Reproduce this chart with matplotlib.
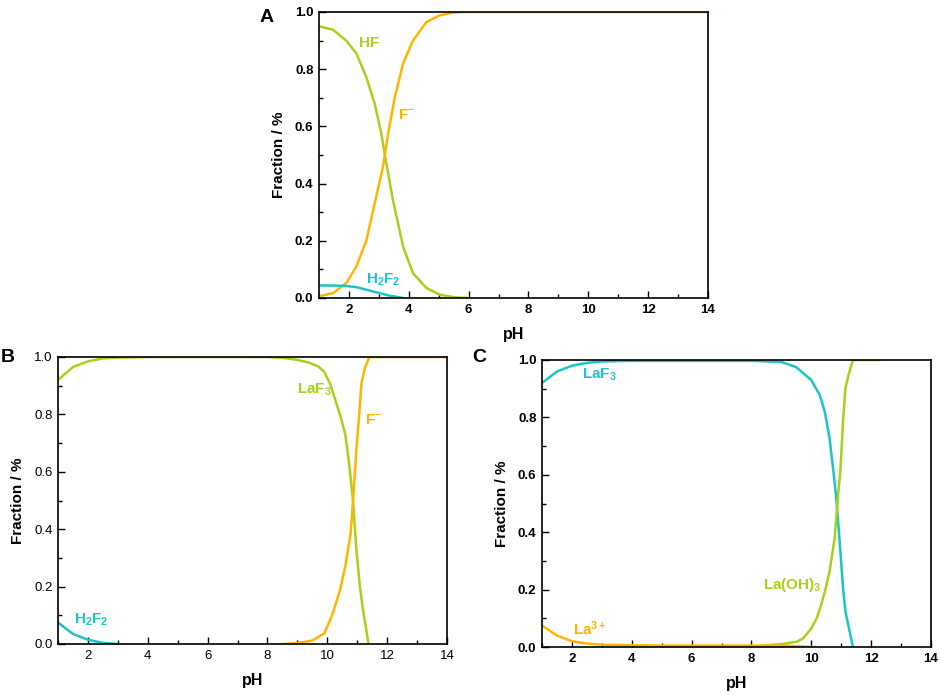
import numpy as np
import matplotlib
matplotlib.use("Agg")
import matplotlib.pyplot as plt
from matplotlib.ticker import MultipleLocator

plt.rcParams["font.family"] = ["Liberation Sans", "DejaVu Sans"]
plt.rcParams["mathtext.fontset"] = "custom"
plt.rcParams["mathtext.rm"] = "Liberation Sans"
plt.rcParams["mathtext.bf"] = "Liberation Sans:bold"

GREEN = "#A6D21C"
ORANGE = "#FFB500"
CYAN = "#1CC4C8"

# Panel A
a_hf_ph = [1, 1.47, 1.91, 2.25, 2.58, 2.86, 3.08, 3.23, 3.47, 3.81, 4.14, 4.59, 5.03, 5.48, 5.98]
a_hf = [0.95, 0.938, 0.90, 0.855, 0.773, 0.68, 0.576, 0.483, 0.343, 0.18, 0.087, 0.035, 0.012, 0.003, 0.0]
a_f_ph = [1, 1.47, 1.91, 2.25, 2.58, 2.86, 3.14, 3.31, 3.53, 3.81, 4.14, 4.59, 5.03, 5.48, 5.92, 14]
a_f = [0.006, 0.017, 0.052, 0.11, 0.2, 0.33, 0.46, 0.575, 0.70, 0.82, 0.90, 0.965, 0.988, 0.998, 1.0, 1.0]
a_h2f2_ph = [1, 1.8, 2.25, 2.8, 3.36, 3.81]
a_h2f2 = [0.044, 0.043, 0.038, 0.023, 0.008, 0.0]

# Panel B
b_laf3_ph = [1, 1.5, 2, 2.5, 3, 4, 6, 8, 8.5, 9, 9.4, 9.7, 9.9, 10.1, 10.27, 10.45, 10.6, 10.68, 10.77, 10.86, 10.97, 11.08, 11.19, 11.38]
b_laf3 = [0.92, 0.965, 0.985, 0.995, 0.998, 1.0, 1.0, 1.0, 0.997, 0.99, 0.98, 0.967, 0.948, 0.905, 0.85, 0.79, 0.73, 0.67, 0.59, 0.5, 0.33, 0.21, 0.12, 0.0]
b_f_ph = [8.5, 9, 9.5, 9.9, 10.16, 10.43, 10.6, 10.78, 10.86, 10.97, 11.06, 11.14, 11.25, 11.41, 14]
b_f = [0.0, 0.003, 0.012, 0.037, 0.1, 0.19, 0.27, 0.385, 0.5, 0.676, 0.79, 0.907, 0.96, 1.0, 1.0]
b_h2f2_ph = [1, 1.5, 2, 2.5, 3]
b_h2f2 = [0.075, 0.035, 0.015, 0.004, 0.0]

# Panel C
c_laf3_ph = [1, 1.5, 2, 2.5, 3, 4, 6, 8, 9, 9.5, 10, 10.28, 10.45, 10.61, 10.74, 10.83, 10.94, 11.06, 11.14, 11.25, 11.39]
c_laf3 = [0.92, 0.96, 0.98, 0.99, 0.995, 0.997, 0.997, 0.997, 0.993, 0.975, 0.93, 0.878, 0.82, 0.727, 0.611, 0.524, 0.379, 0.205, 0.124, 0.07, 0.0]
c_laoh_ph = [8.4, 9, 9.5, 9.73, 10.0, 10.18, 10.33, 10.47, 10.61, 10.78, 10.89, 10.97, 11.06, 11.14, 11.25, 11.39, 12.28]
c_laoh = [0.005, 0.01, 0.018, 0.03, 0.065, 0.1, 0.147, 0.2, 0.263, 0.379, 0.524, 0.611, 0.786, 0.902, 0.95, 1.0, 1.0]
c_la_ph = [1, 1.5, 2, 2.5, 3, 4, 5, 9, 9.5, 10.1]
c_la = [0.075, 0.04, 0.02, 0.012, 0.008, 0.006, 0.005, 0.005, 0.003, 0.0]

W, H = 941.0, 695.0


def style(ax, h_px, bold_ticks=True):
    ax.set_xlim(1, 14)
    ax.set_ylim(0, 1.0)
    ax.xaxis.set_major_locator(MultipleLocator(2))
    ax.xaxis.set_minor_locator(MultipleLocator(1))
    ax.yaxis.set_major_locator(MultipleLocator(0.2))
    ax.yaxis.set_minor_locator(MultipleLocator(0.1))
    ax.yaxis.set_major_formatter(plt.FormatStrFormatter("%.1f"))
    ax.tick_params(which="both", direction="in", labelsize=9.5, pad=4)
    ax.tick_params(which="major", length=5, width=1.0)
    ax.tick_params(which="minor", length=3, width=1.0)
    for lab in ax.get_xticklabels() + ax.get_yticklabels():
        lab.set_fontweight("bold" if bold_ticks else "normal")
    for s in ax.spines.values():
        s.set_linewidth(1.2)
    ax.set_ylabel("Fraction / %", fontsize=11, fontweight="bold")
    ax.set_xlabel("pH", fontsize=11.5, fontweight="bold")
    ax.yaxis.set_label_coords(-33 / 389.0, 0.5)
    ax.xaxis.set_label_coords(0.5, -29.0 / h_px)


fig = plt.figure(figsize=(9.41, 6.95), dpi=100)


def add_axes(l, r, t, b):
    return fig.add_axes([l / W, 1 - b / H, (r - l) / W, (b - t) / H])


lw = 1.8
lab_kw = dict(fontsize=11, va="center")

axA = add_axes(319, 708, 12, 298)
axA.plot(a_hf_ph, a_hf, color=GREEN, lw=lw)
axA.plot(a_f_ph, a_f, color=ORANGE, lw=lw)
axA.plot(a_h2f2_ph, a_h2f2, color=CYAN, lw=lw)
style(axA, 286)
axA.text(2.3, 0.89, r"$\mathbf{HF}$", color=GREEN, **lab_kw)
axA.text(3.64, 0.64, r"$\mathbf{F^{-}}$", color=ORANGE, **lab_kw)
axA.text(2.58, 0.065, r"$\mathbf{H_2F_2}$", color=CYAN, **lab_kw)

axB = add_axes(58, 447, 357, 644)
axB.plot(b_laf3_ph, b_laf3, color=GREEN, lw=lw)
axB.plot(b_f_ph, b_f, color=ORANGE, lw=lw)
axB.plot(b_h2f2_ph, b_h2f2, color=CYAN, lw=lw)
style(axB, 287, bold_ticks=False)
axB.text(8.98, 0.884, r"$\mathbf{LaF_3}$", color=GREEN, **lab_kw)
axB.text(11.27, 0.78, r"$\mathbf{F^{-}}$", color=ORANGE, **lab_kw)
axB.text(1.52, 0.086, r"$\mathbf{H_2F_2}$", color=CYAN, **lab_kw)

axC = add_axes(542, 931, 360, 647)
axC.plot(c_laf3_ph, c_laf3, color=CYAN, lw=lw)
axC.plot(c_laoh_ph, c_laoh, color=GREEN, lw=lw)
axC.plot(c_la_ph, c_la, color=ORANGE, lw=lw)
style(axC, 287)
axC.text(2.34, 0.948, r"$\mathbf{LaF_3}$", color=CYAN, **lab_kw)
axC.text(8.39, 0.215, r"$\mathbf{La(OH)_3}$", color=GREEN, **lab_kw)
axC.text(2.04, 0.063, r"$\mathbf{La^{3+}}$", color=ORANGE, **lab_kw)

fig.text(267 / W, 1 - 17 / H, "A", fontsize=14, fontweight="bold", va="center", ha="center")
fig.text(8 / W, 1 - 357 / H, "B", fontsize=14, fontweight="bold", va="center", ha="center")
fig.text(479 / W, 1 - 357 / H, "C", fontsize=14, fontweight="bold", va="center", ha="center")

fig.savefig("out.png", dpi=100)
